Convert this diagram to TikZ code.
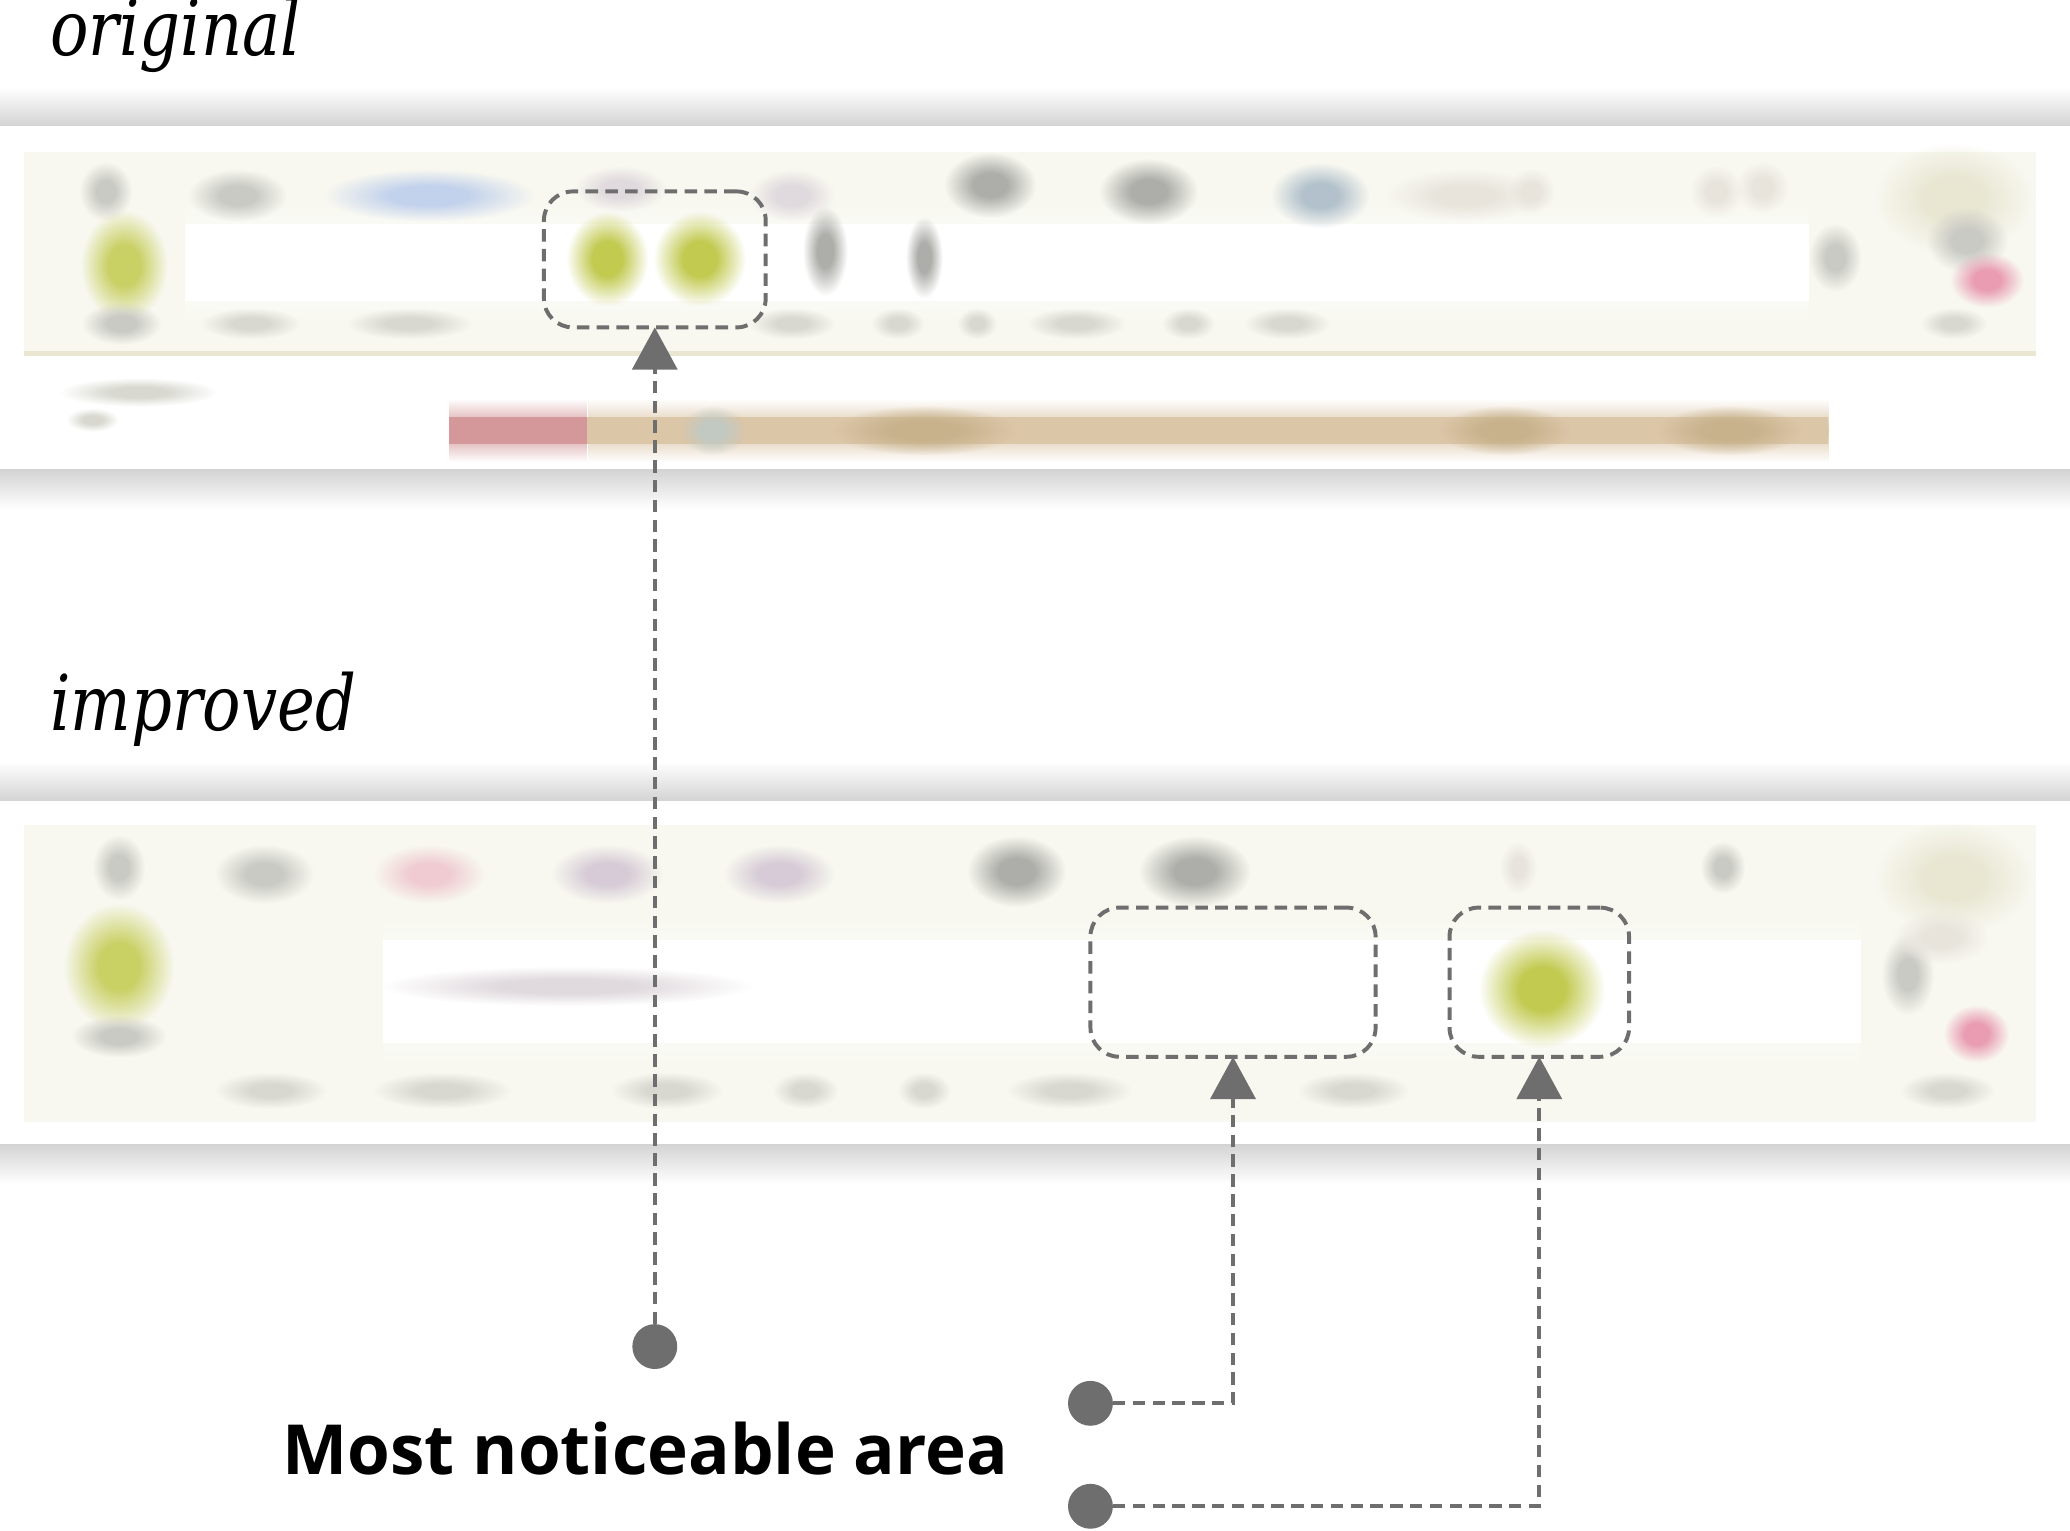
\documentclass[tikz,border=0pt]{standalone}
\usepackage{fontspec}
\newfontfamily\etikettfont[FakeStretch=0.83]{DejaVu Serif}
\newfontfamily\tittelfont{Open Sans}
\usetikzlibrary{positioning}
\usetikzlibrary{arrows.meta,fadings}

\definecolor{strek}{HTML}{6E6E6E}
\definecolor{skygge}{HTML}{D4D4D4}
\definecolor{krem}{HTML}{F8F8F0}
\definecolor{lysgraa}{HTML}{CACAC5}
\definecolor{graa}{HTML}{ADADA9}
\definecolor{blaa}{HTML}{C2D1EC}
\definecolor{blek}{HTML}{E0D9DD}
\definecolor{lilla}{HTML}{D6CBD6}
\definecolor{lysrosa}{HTML}{F0CCD2}
\definecolor{blaagraa}{HTML}{B2C1CC}
\definecolor{svak}{HTML}{E8E4DC}
\definecolor{kremmork}{HTML}{E9E6D2}
\definecolor{lysgronn}{HTML}{C9D064}
\definecolor{gronn}{HTML}{C2CA50}
\definecolor{rosa}{HTML}{E99CB2}
\definecolor{tekstgraa}{HTML}{D8D8D0}
\definecolor{rod}{HTML}{D4979A}
\definecolor{tan}{HTML}{DCC6A8}
\definecolor{tanmork}{HTML}{C7B28C}
\definecolor{blaagronn}{HTML}{C2C9C2}

% soft fadings for the blurred screenshots
\pgfdeclareradialshading{uklarskygge}{\pgfpointorigin}{color(0pt)=(pgftransparent!0);
    color(9pt)=(pgftransparent!0); color(25pt)=(pgftransparent!100);
    color(50pt)=(pgftransparent!100)}
\pgfdeclarefading{uklar}{\pgfuseshading{uklarskygge}}
\tikzfading[name=mykkant, top color=transparent!100, bottom color=transparent!100,
            middle color=transparent!0]

\tikzset{
    %Define standard arrow tip
    >={Triangle[width=3.4mm,length=3.2mm]},
    % Define arrow style
    pil/.style={
           ->,
           draw=strek,
           line width=0.85pt,
           dash pattern=on 0.95mm off 0.55mm,},
    % dashed frame round an area
    ramme/.style={
           draw=strek,
           line width=0.85pt,
           dash pattern=on 0.95mm off 0.55mm,
           rounded corners=2.2mm,
           inner sep=0pt},
    % start dot of an arrow
    prikk/.style={
           shape=circle,
           fill=strek,
           minimum size=3.4mm,
           inner sep=0pt},
    % blurred spot
    flekk/.style={path fading=uklar}
}

\begin{document}
\begin{tikzpicture}[x=0.1mm, y=-0.1mm, outer sep = 0pt]

\useasboundingbox (0,0) rectangle (1568,1159);

%%%%%%%%%%%%%%%%%%%%%%%%%%%%%%%%%

% labels
\node [anchor=base west, inner sep=0pt,
       font=\etikettfont\itshape\fontsize{16.6}{18}\selectfont] (original) at (38,41.7) {original};
\node [anchor=base west, inner sep=0pt,
       font=\etikettfont\itshape\fontsize{16.6}{18}\selectfont] (improved) at (38,553) {improved};

% shadows
\shade [top color=white, bottom color=skygge] (0,66) rectangle (1568,95);
\shade [top color=skygge, bottom color=white] (0,356) rectangle (1568,386);
\shade [top color=white, bottom color=skygge] (0,577) rectangle (1568,606);
\shade [top color=skygge, bottom color=white] (0,867) rectangle (1568,897);

% original screenshot
\fill [krem] (18,115) rectangle (1542,268);
\fill [white] (140,170) rectangle (1370,228);
\fill [white, path fading=mykkant] (140,150) rectangle (1370,248);
\draw [kremmork, line width=1pt] (18,268) -- (1542,268);
\fill [rod] (340,316) rectangle (445,336);
\fill [rod, path fading=mykkant] (340,302) rectangle (445,350);
\fill [tan] (445,316) rectangle (1385,336);
\fill [tan, path fading=mykkant] (445,302) rectangle (1385,350);
\foreach \x/\y/\w/\h/\c in {80/145/40/45/lysgraa, 180/148/75/40/lysgraa,
        325/148/160/40/blaa, 470/143/70/35/blek, 600/148/65/40/blek,
        750/140/70/50/graa, 870/145/75/50/graa, 1000/148/75/50/blaagraa,
        1110/148/120/40/svak, 1160/145/35/35/svak, 1300/145/40/40/svak,
        1335/142/40/40/svak, 1480/150/120/85/kremmork,
        94/201/66/84/lysgronn, 92/245/60/32/lysgraa,
        460/196/62/72/gronn, 530/196/70/72/gronn,
        625/190/34/68/graa, 700/195/28/62/graa,
        1390/195/40/52/lysgraa, 1490/182/62/50/lysgraa, 1505/212/56/42/rosa,
        105/297/120/22/tekstgraa, 70/318/40/18/tekstgraa,
        540/326/50/38/blaagronn, 700/326/140/38/tanmork, 1140/326/100/38/tanmork,
        1310/326/110/38/tanmork}
    \fill [\c, flekk] (\x-\w/2, \y-\h/2) rectangle ++(\w, \h);
\foreach \x/\w in {190/75, 310/95, 600/65, 680/40, 740/30, 815/75,
        900/40, 975/65, 1480/50}
    \fill [tekstgraa, flekk] (\x-\w/2, 233) rectangle ++(\w, 24);

% improved screenshot
\fill [krem] (18,625) rectangle (1542,850);
\fill [white] (290,712) rectangle (1410,790);
\fill [white, path fading=mykkant] (290,690) rectangle (1410,812);
\foreach \x/\y/\w/\h/\c in {90/657/40/50/lysgraa, 200/662/75/45/lysgraa,
        325/662/85/45/lysrosa, 460/662/85/45/lilla, 590/662/85/45/lilla,
        770/660/75/54/graa, 905/660/85/54/graa, 1150/657/28/40/svak,
        1305/657/34/40/lysgraa, 1480/665/120/85/kremmork,
        90/732/84/96/lysgronn, 90/785/72/32/lysgraa,
        430/747/280/30/blek, 1168/749/96/90/gronn,
        1445/738/40/62/lysgraa, 1470/710/72/40/svak, 1497/783/50/44/rosa}
    \fill [\c, flekk] (\x-\w/2, \y-\h/2) rectangle ++(\w, \h);
\foreach \x/\w in {205/85, 335/105, 505/85, 610/50, 700/40, 810/95,
        1025/85, 1475/72}
    \fill [tekstgraa, flekk] (\x-\w/2, 812) rectangle ++(\w, 28);

% marked areas
\node [ramme, minimum width=16.8mm, minimum height=10.3mm] (boks1) at (496,196.5) {};
\node [ramme, minimum width=21.6mm, minimum height=11.3mm] (boks2) at (934,744) {};
\node [ramme, minimum width=13.6mm, minimum height=11.3mm] (boks3) at (1166,744) {};

% start dots
\node [prikk] (prikk1) at (496,1020) {};
\node [prikk] (prikk2) at (826,1063) {};
\node [prikk] (prikk3) at (826,1141) {};

% arrows
\draw [pil] (prikk1) -- (boks1.south);
\draw [pil] (prikk2) -| (boks2.south);
\draw [pil] (prikk3) -| (boks3.south);

\node [anchor=base west, inner sep=0pt,
       font=\tittelfont\bfseries\fontsize{14.9}{18}\selectfont] (tekst) at (214,1117) {Most noticeable area};

\end{tikzpicture}
\end{document}
